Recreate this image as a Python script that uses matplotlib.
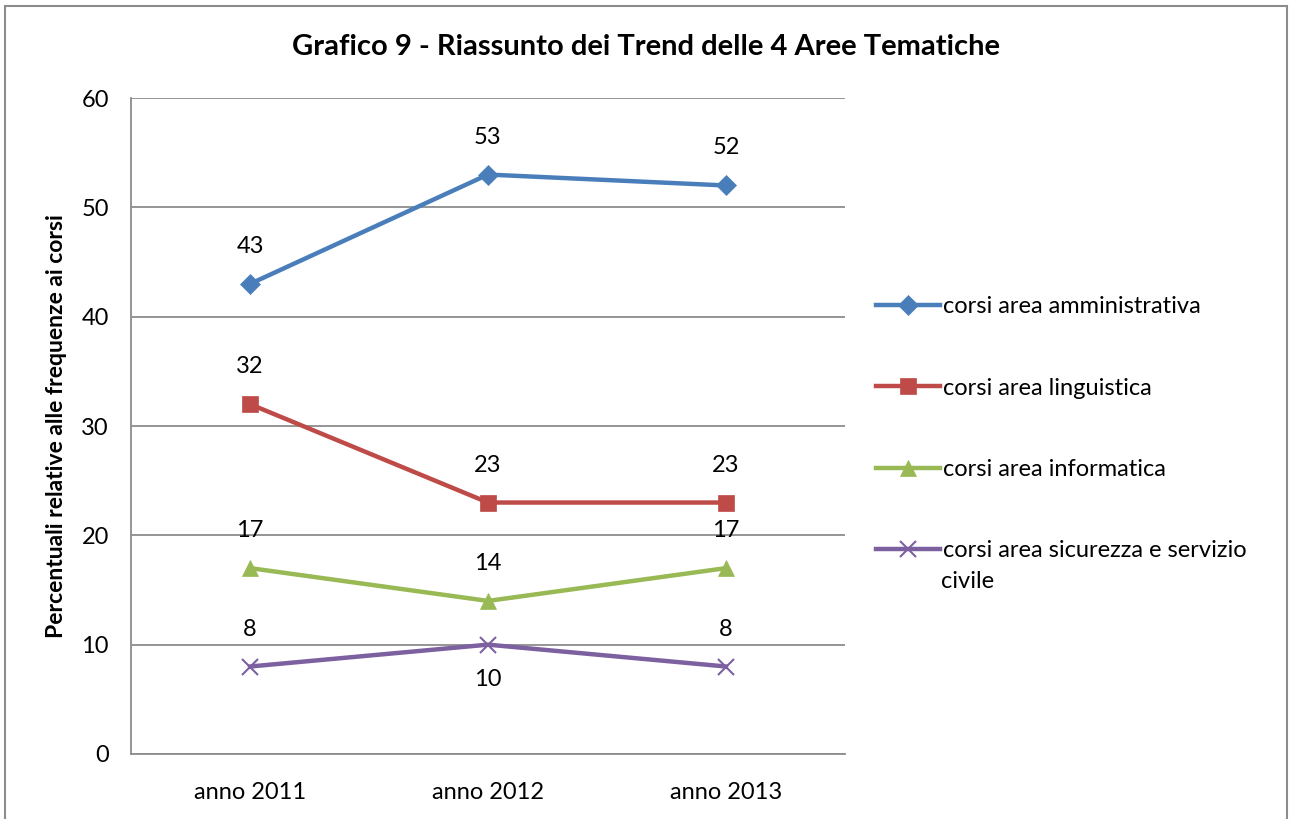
import matplotlib
matplotlib.use("Agg")
import matplotlib.pyplot as plt
from matplotlib.patches import Rectangle

plt.rcParams['font.family'] = ['Lato', 'DejaVu Sans']

# Data
years = ['anno 2011', 'anno 2012', 'anno 2013']
amministrativa = [43, 53, 52]
linguistica = [32, 23, 23]
informatica = [17, 14, 17]
sicurezza = [8, 10, 8]

series = [
    ('corsi area amministrativa', amministrativa, '#4A7EBB', 'D', 10),
    ('corsi area linguistica', linguistica, '#BE4B48', 's', 12),
    ('corsi area informatica', informatica, '#98B954', '^', 12),
    ('corsi area sicurezza e servizio', sicurezza, '#7D60A0', 'x', 11),
]

fig = plt.figure(figsize=(12.91, 8.19), dpi=100)
ax = fig.add_axes([0.1015, 0.0794, 0.553, 0.8009])

# outer chart border
fig.patches.append(Rectangle((0.004, -0.01), 0.993, 1.003, transform=fig.transFigure,
                             fill=False, edgecolor='#8c8c8c', linewidth=1.5))

x = list(range(len(years)))
for label, vals, color, marker, ms in series:
    ax.plot(x, vals, color=color, linewidth=3.2, marker=marker, markersize=ms,
            markeredgewidth=1.5 if marker == 'x' else 0.5,
            markeredgecolor=color, markerfacecolor=color, label=label, zorder=3)
    for xi, v in zip(x, vals):
        # the purple 2012 label sits below the point
        if label.startswith('corsi area sicurezza') and xi == 1:
            ax.annotate(str(v), (xi, v), xytext=(0, -25), textcoords='offset points',
                        ha='center', va='center', fontsize=17)
        else:
            ax.annotate(str(v), (xi, v), xytext=(0, 27), textcoords='offset points',
                        ha='center', va='center', fontsize=17)

ax.set_xlim(-0.5, 2.5)
ax.set_ylim(0, 60)
ax.set_yticks(range(0, 61, 10))
ax.set_xticks(x)
ax.set_xticklabels(years)
ax.tick_params(axis='both', length=0, labelsize=17)
ax.tick_params(axis='x', pad=20)
ax.tick_params(axis='y', pad=16)
ax.yaxis.grid(True, color='#8c8c8c', linewidth=1.3)
ax.set_axisbelow(True)
for side in ['top', 'right']:
    ax.spines[side].set_visible(False)
for side in ['left', 'bottom']:
    ax.spines[side].set_color('#8c8c8c')
    ax.spines[side].set_linewidth(1.3)

ax.set_ylabel('Percentuali relative alle frequenze ai corsi', fontsize=16.5,
              fontweight='bold', labelpad=10)
fig.text(0.5, 0.943, 'Grafico 9 - Riassunto dei Trend delle 4 Aree Tematiche',
         ha='center', va='center', fontsize=21, fontweight='bold')

ax.legend(loc='upper left', bbox_to_anchor=(1.03, 0.712), frameon=False,
          fontsize=17, labelspacing=2.55, handlelength=2.7, handletextpad=0.15,
          borderaxespad=0)
# wrapped second line of the last legend entry
fig.text(0.729, 1 - 582 / 819, 'civile', ha='left', va='center', fontsize=17)

fig.savefig('out.png', dpi=100)
